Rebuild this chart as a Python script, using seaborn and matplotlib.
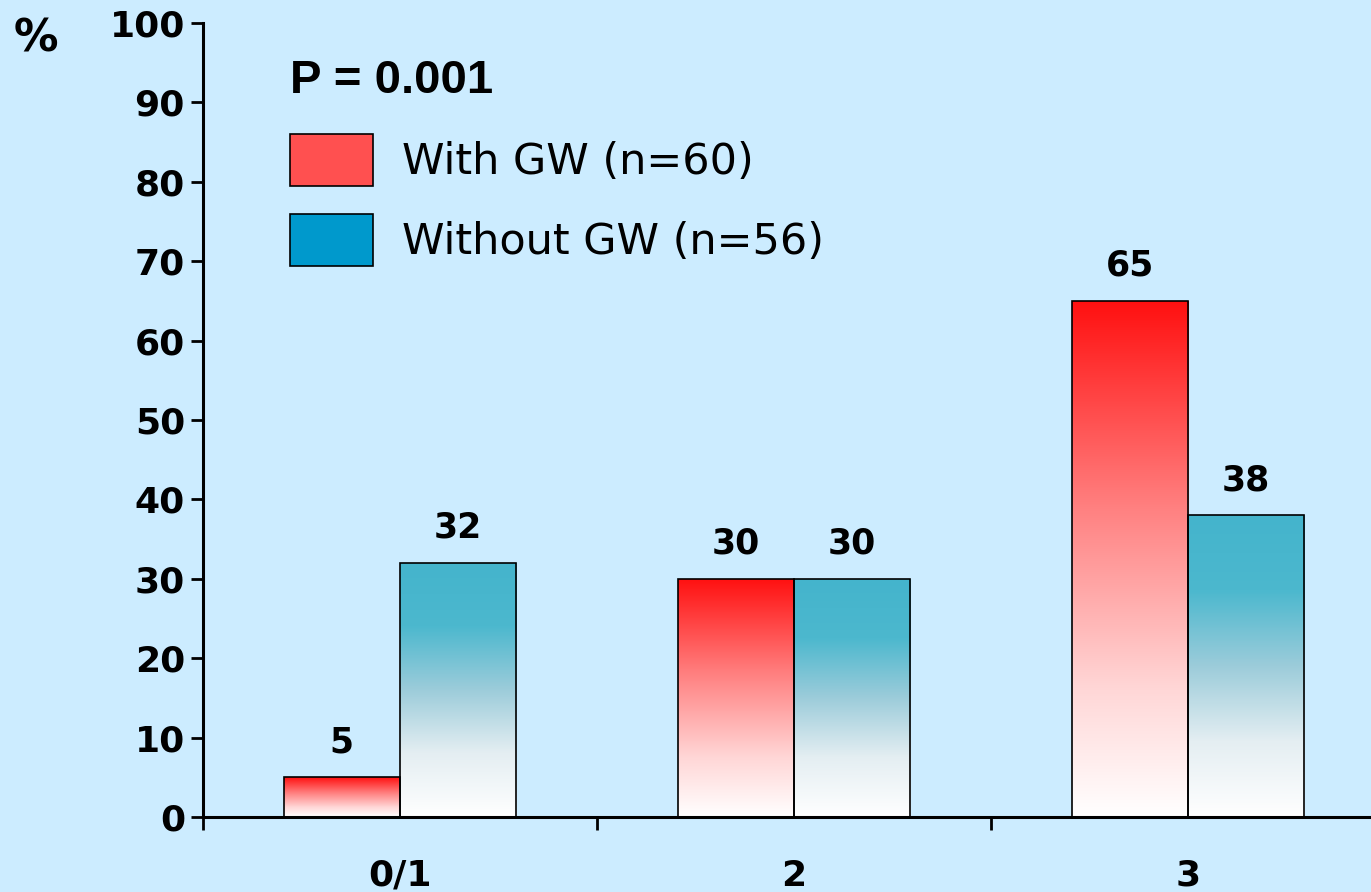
import numpy as np
import pandas as pd
import seaborn as sns
import matplotlib.pyplot as plt
from matplotlib.colors import LinearSegmentedColormap
from matplotlib.patches import Patch

# data
categories = ['0/1', '2', '3']
with_gw = [5, 30, 65]
without_gw = [32, 30, 38]
groups = ['With GW (n=60)', 'Without GW (n=56)']

df = pd.DataFrame({
    'score': categories * 2,
    'pct': with_gw + without_gw,
    'group': [groups[0]] * 3 + [groups[1]] * 3,
})

bg = '#CCECFF'
sns.set_style('white')
plt.rcParams['font.family'] = ['DejaVu Sans']
plt.rcParams['text.color'] = 'black'
plt.rcParams['xtick.color'] = 'black'
plt.rcParams['ytick.color'] = 'black'

fig = plt.figure(figsize=(13.71, 8.92), dpi=100, facecolor=bg)
ax = fig.add_axes([203 / 1371, 75 / 892, 1 - 203 / 1371, (817 - 23) / 892])
ax.set_facecolor(bg)

sns.barplot(data=df, x='score', y='pct', hue='group', order=categories,
            hue_order=groups, palette=['#FF5050', '#0099CC'], width=0.59,
            edgecolor='black', linewidth=1.2, legend=False, ax=ax)

# gradient fills, white at the bottom
red_cmap = LinearSegmentedColormap.from_list(
    'r', [(0, '#FFFFFF'), (0.25, '#FFD6D6'), (0.6, '#FF8080'), (1, '#FF1010')])
blue_cmap = LinearSegmentedColormap.from_list(
    'b', [(0, '#FFFFFF'), (0.25, '#E4EEF2'), (0.5, '#9CCCDA'), (0.75, '#4CB8CE'), (1, '#44B4CC')])
grad = np.linspace(0, 1, 256).reshape(-1, 1)
for cont, cmap in zip(ax.containers, [red_cmap, blue_cmap]):
    for bar in cont:
        x0, y0 = bar.get_x(), bar.get_y()
        w, h = bar.get_width(), bar.get_height()
        im = ax.imshow(grad, cmap=cmap, origin='lower', aspect='auto',
                       extent=[x0, x0 + w, y0, y0 + h], zorder=2)
        im.set_clip_path(bar)
        bar.set_facecolor('none')
        bar.set_zorder(3)
    ax.bar_label(cont, padding=13, fontsize=25, fontweight='bold', color='black')

ax.set_xlim(-0.5, 2.465)
ax.set_ylim(0, 100)
ax.set_yticks(range(0, 101, 10))
ax.set_xticks(range(3))
ax.set_xticks([-0.5, 0.5, 1.5], minor=True)
ax.set_xticklabels(categories)
ax.set_xlabel('')
ax.set_ylabel('')

for s in ['top', 'right']:
    ax.spines[s].set_visible(False)
for s in ['left', 'bottom']:
    ax.spines[s].set_linewidth(2.2)
    ax.spines[s].set_color('black')

ax.tick_params(axis='y', length=9, width=2, pad=4, labelsize=26, left=True)
ax.tick_params(axis='x', which='major', length=0, pad=30, labelsize=26)
ax.tick_params(axis='x', which='minor', length=9, width=2, bottom=True)
for lab in ax.get_xticklabels() + ax.get_yticklabels():
    lab.set_fontweight('bold')

fig.text(14 / 1371, 1 - 52 / 892, '%', fontsize=32, fontweight='bold')
fig.text(290 / 1371, 1 - 93 / 892, 'P = 0.001', fontsize=34, fontweight='bold',
         family=['Liberation Sans', 'DejaVu Sans'])

handles = [Patch(facecolor='#FF5050', edgecolor='black', linewidth=1.2),
           Patch(facecolor='#0099CC', edgecolor='black', linewidth=1.2)]
ax.legend(handles, groups, loc='upper left',
          bbox_to_anchor=(290 / 1371, 1 - 134 / 892), bbox_transform=fig.transFigure,
          frameon=False, fontsize=31, handlelength=1.93, handleheight=1.48,
          labelspacing=0.65, handletextpad=0.67, borderpad=0, borderaxespad=0)

fig.savefig('out.png', dpi=100, facecolor=bg)
